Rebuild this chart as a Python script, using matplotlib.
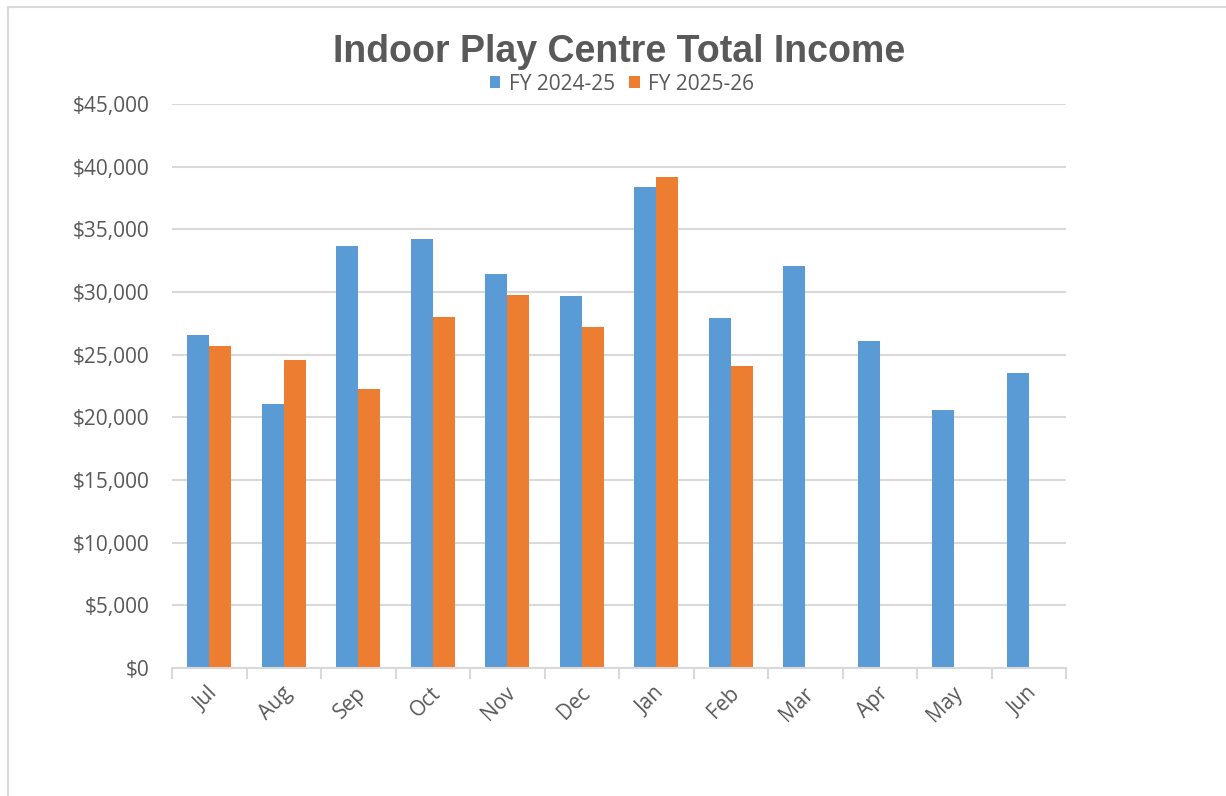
import matplotlib
matplotlib.use("Agg")
import matplotlib.pyplot as plt
import matplotlib.transforms as mtransforms
from matplotlib.lines import Line2D
from matplotlib.ticker import FuncFormatter, FixedLocator
import numpy as np

months = ["Jul", "Aug", "Sep", "Oct", "Nov", "Dec", "Jan", "Feb", "Mar", "Apr", "May", "Jun"]
fy2425 = [26600, 21100, 33700, 34200, 31400, 29700, 38400, 27900, 32100, 26100, 20600, 23500]
fy2526 = [25700, 24600, 22300, 28000, 29800, 27200, 39200, 24100]
series_names = ["FY 2024-25", "FY 2025-26"]
title = "Indoor Play Centre Total Income"

BLUE = "#5B9BD5"
ORANGE = "#ED7D31"
TXT = "#595959"
GRID = "#D9D9D9"
FONT = ["Open Sans", "DejaVu Sans"]
FS = 15

W, H = 1226, 796
fig = plt.figure(figsize=(W / 100, H / 100), dpi=100)
fig.patch.set_facecolor("white")

# chart border (top & left visible)
fig.add_artist(Line2D([8 / W, 1.0], [1 - 7 / H, 1 - 7 / H], color=GRID, lw=1.5, transform=fig.transFigure))
fig.add_artist(Line2D([8 / W, 8 / W], [0.0, 1 - 7 / H], color=GRID, lw=1.5, transform=fig.transFigure))

left, right = 172 / W, 1066 / W
bottom, top = 1 - 668 / H, 1 - 104 / H
ax = fig.add_axes([left, bottom, right - left, top - bottom])

x = np.arange(len(months))
bw = 0.295
ax.bar(x[:len(fy2425)], fy2425, width=-bw, align="edge", color=BLUE, zorder=3, label=series_names[0])
ax.bar(x[:len(fy2526)], fy2526, width=bw, align="edge", color=ORANGE, zorder=3, label=series_names[1])

ax.set_xlim(-0.5, len(months) - 0.5)
ax.set_ylim(0, 45000)
ax.yaxis.set_major_locator(FixedLocator(np.arange(0, 45001, 5000)))
ax.yaxis.set_major_formatter(FuncFormatter(lambda v, p: f"${v:,.0f}"))
ax.grid(axis="y", color=GRID, lw=1.5, zorder=0)
ax.set_axisbelow(True)

for s in ["top", "right", "left"]:
    ax.spines[s].set_visible(False)
ax.spines["bottom"].set_color(GRID)
ax.spines["bottom"].set_linewidth(1.5)
ax.spines["bottom"].set_zorder(4)

ax.tick_params(axis="y", length=0, pad=16, labelsize=FS, labelcolor=TXT)
for lab in ax.get_yticklabels():
    lab.set_fontfamily(FONT)

ax.set_xticks(x)
ax.set_xticks(np.arange(-0.5, len(months), 1.0), minor=True)
ax.tick_params(axis="x", which="major", length=0, pad=16)
ax.tick_params(axis="x", which="minor", length=8, width=1.5, color=GRID, direction="out")
ax.set_xticklabels(months, rotation=45, ha="right", va="center", rotation_mode="anchor",
                   fontsize=FS, color=TXT, family=FONT)
offset = mtransforms.ScaledTranslation(5 / 100, 0, fig.dpi_scale_trans)
for lab in ax.get_xticklabels():
    lab.set_transform(lab.get_transform() + offset)

fig.text(0.5 * (left + right), 1 - 62 / H, title, ha="center", va="baseline",
         fontsize=27, fontweight="bold", color=TXT, family=["Liberation Sans", "DejaVu Sans"])

leg = fig.legend(loc="center", bbox_to_anchor=(622 / W, 1 - 84 / H), ncol=2, frameon=False,
                 prop={"family": FONT, "size": FS}, handlelength=0.5, handleheight=0.5,
                 handletextpad=0.4, columnspacing=0.7, labelcolor=TXT)

fig.savefig("out.png", dpi=100, facecolor="white")
